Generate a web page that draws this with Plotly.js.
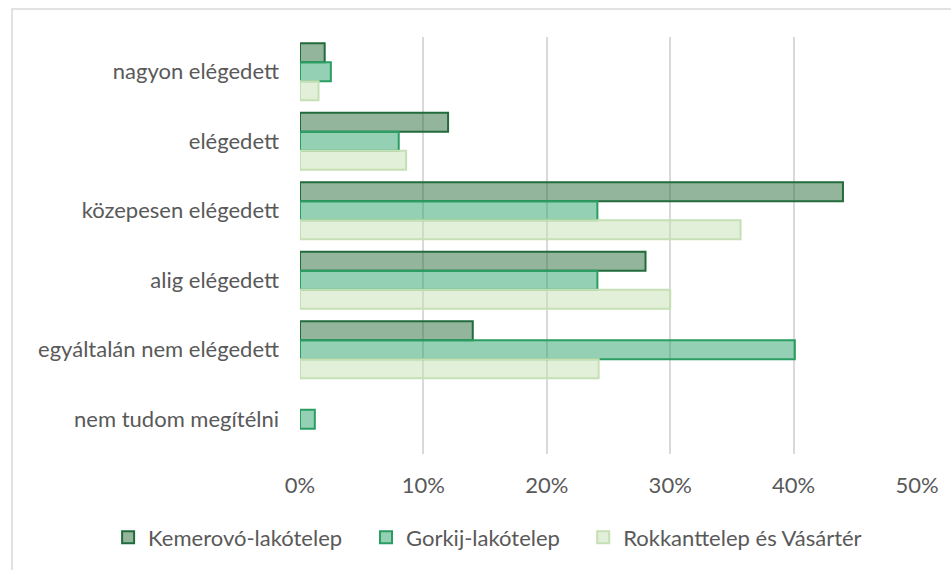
<!DOCTYPE html>
<html>
<head>
<meta charset="utf-8">
<script src="https://cdn.plot.ly/plotly-3.0.1.min.js"></script>
<style>
html,body{margin:0;padding:0;background:#fff;}
#chart{width:951px;height:570px;}
</style>
</head>
<body>
<div id="chart"></div>
<script>
const categories = ["nagyon elégedett", "elégedett", "közepesen elégedett", "alig elégedett", "egyáltalán nem elégedett", "nem tudom megítélni"];
const seriesNames = ["Kemerovó-lakótelep", "Gorkij-lakótelep", "Rokkanttelep és Vásártér"];
const kemerovo = [0.020, 0.120, 0.440, 0.280, 0.140, 0.000];
const gorkij   = [0.025, 0.080, 0.241, 0.241, 0.401, 0.012];
const rokkant  = [0.015, 0.086, 0.357, 0.300, 0.242, 0.000];
const xTickVals = [0, 0.1, 0.2, 0.3, 0.4, 0.5];
const xTickText = ["0%", "10%", "20%", "30%", "40%", "50%"];

const fills = ["rgba(38,107,58,0.5)", "rgba(41,163,105,0.5)", "rgba(197,224,180,0.5)"];
const lines = ["#236b3c", "#2a9d62", "#c5e0b4"];
const legendIds = ["legend", "legend2", "legend3"];
const legendX = [-0.311, 0.107, 0.459];
const data = [kemerovo, gorkij, rokkant].map((vals, i) => ({
  type: "bar",
  orientation: "h",
  name: seriesNames[i],
  legend: legendIds[i],
  y: categories,
  x: vals,
  marker: {color: fills[i], line: {color: lines[i], width: vals.map(v => v > 0 ? 2 : 0)}},
  hoverinfo: "x+y+name"
}));

const legendBase = {orientation: "h", xanchor: "left", y: -0.2, yanchor: "middle",
                    itemwidth: 30, font: {size: 22, color: "#595959"}, bgcolor: "rgba(0,0,0,0)"};

const layout = {
  width: 951, height: 570,
  margin: {l: 300, r: 34, t: 37, b: 116, autoexpand: false},
  paper_bgcolor: "#fff", plot_bgcolor: "#fff",
  font: {family: "Lato, 'Open Sans', sans-serif", size: 22, color: "#595959"},
  barmode: "group",
  bargap: 0.18,
  bargroupgap: 0,
  showlegend: true,
  legend: Object.assign({}, legendBase, {x: legendX[0]}),
  legend2: Object.assign({}, legendBase, {x: legendX[1]}),
  legend3: Object.assign({}, legendBase, {x: legendX[2]}),
  xaxis: {
    range: [0, 0.5], tickvals: xTickVals, ticktext: xTickText,
    showgrid: true, gridcolor: "#d9d9d9", gridwidth: 2,
    zeroline: false, showline: false, ticks: "", ticklabelstandoff: 16,
    fixedrange: true
  },
  yaxis: {
    type: "category", autorange: "reversed",
    showgrid: false, zeroline: false, showline: false, ticks: "",
    ticklabelstandoff: 20, fixedrange: true
  },
  shapes: [{
    type: "rect", xref: "paper", yref: "paper",
    x0: -0.4668, x1: 2, y0: -2, y1: 1.067,
    line: {color: "#d9d9d9", width: 1.5}, fillcolor: "rgba(0,0,0,0)", layer: "below"
  }]
};

Plotly.newPlot("chart", data, layout, {displayModeBar: false, staticPlot: true});
</script>
</body>
</html>
